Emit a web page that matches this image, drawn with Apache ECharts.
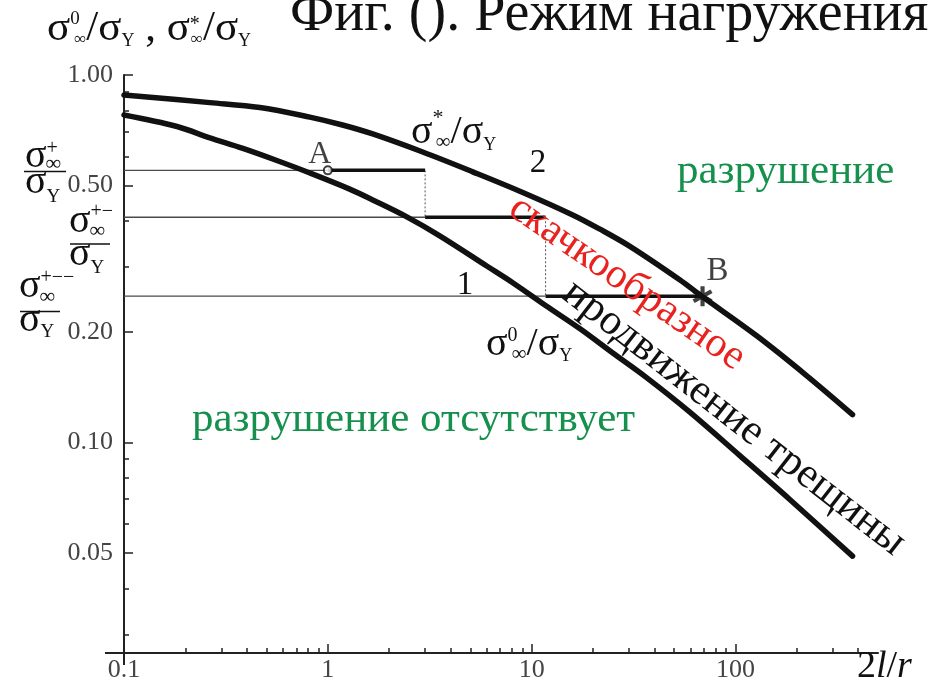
<!DOCTYPE html>
<html><head><meta charset="utf-8">
<script src="https://cdn.jsdelivr.net/npm/echarts@6/dist/echarts.min.js"></script>
<style>html,body{margin:0;padding:0;background:#fff}#c{width:936px;height:687px}</style>
</head><body><div id="c"></div>
<script>
// ---------------- data ----------------
const xMajorTicks = [0.1, 1, 10, 100];
const xMinorTicks = [0.2,0.3,0.4,0.5,0.6,0.7,0.8,0.9,2,3,4,5,6,7,8,9,20,30,40,50,60,70,80,90,200,300,400];
const yMajorTicks = [0.05, 0.1, 0.2, 0.5, 1];
const yMinorTicks = [0.03,0.04,0.06,0.07,0.08,0.09,0.3,0.4,0.6,0.7,0.8,0.9];
const xRange = [0.1, 500];
const yRange = [0.0267, 1];

// curve 2 : sigma*_inf / sigma_Y
const curve2X = [0.1, 0.264, 0.464, 0.816, 1.18, 1.66, 2.92, 5.14, 9.04, 15.9, 21.5, 30.2, 53.2, 68.9, 127, 223, 375];
const curve2Y = [0.882, 0.841, 0.816, 0.768, 0.731, 0.691, 0.617, 0.545, 0.479, 0.416, 0.381, 0.342, 0.277, 0.249, 0.195, 0.152, 0.119];
// curve 1 : sigma0_inf / sigma_Y
const curve1X = [0.1, 0.182, 0.264, 0.383, 0.562, 0.816, 1.28, 1.66, 2.44, 3.54, 6.02, 8.07, 11.8, 17.2, 25.0, 36.6, 59.5, 105, 184, 375];
const curve1Y = [0.778, 0.724, 0.674, 0.631, 0.585, 0.541, 0.489, 0.457, 0.411, 0.365, 0.302, 0.272, 0.235, 0.204, 0.175, 0.150, 0.121, 0.092, 0.070, 0.049];
// stepwise crack growth: load levels and jump abscissae (A ... B)
const stepLevels = [0.55, 0.41, 0.25];
const stepX = [1, 3, 11.7, 68.9];

// ---------------- helpers ----------------
const serif = '"Liberation Serif","DejaVu Serif",serif';
const mctx = document.createElement('canvas').getContext('2d');
function tw(t, f, it){ mctx.font = (it?'italic ':'') + f + 'px ' + serif; return mctx.measureText(t).width; }
function txt(x, baseline, t, f, color, align, italic){
  return {type:'text', silent:true, z:100,
    style:{x:x, y:baseline - 0.3375*f, text:t, font:(italic?'italic ':'')+f+'px '+serif, fill:color||'#111',
      align:align||'left', verticalAlign:'middle', textAlign:align||'left', textVerticalAlign:'middle'}};
}
function formula(x0, base, color, toks){
  const els=[]; let x=x0, prevX=x0;
  toks.forEach(k=>{
    const xx = (k.stack ? prevX : x) + (k.dx||0);
    const w = tw(k.t, k.f, k.it);
    els.push(txt(xx, base + (k.dy||0), k.t, k.f, color, 'left', k.it));
    if(!k.stack){ prevX = xx; x = xx + w; } else { x = Math.max(x, xx + w); }
  });
  return els;
}
function rotText(cx, cy, t, f, color, deg){
  return {type:'text', silent:true, z:100, x:cx, y:cy, rotation:-deg*Math.PI/180,
    style:{x:0,y:0,text:t,font:f+'px '+serif,fill:color,align:'center',verticalAlign:'middle',textAlign:'center',textVerticalAlign:'middle'}};
}
function asteriskPath(){
  let p='path://';
  [90,30,150].forEach(a=>{
    const r=a*Math.PI/180, d=[Math.cos(r)*50,Math.sin(r)*50], n=[-Math.sin(r)*10,Math.cos(r)*10];
    const pts=[[d[0]+n[0],d[1]+n[1]],[d[0]-n[0],d[1]-n[1]],[-d[0]-n[0],-d[1]-n[1]],[-d[0]+n[0],-d[1]+n[1]]];
    p+='M'+pts.map(q=>(q[0]+50).toFixed(2)+' '+(q[1]+50).toFixed(2)).join(' L')+' Z ';
  });
  return p;
}
const seg = (data, width, color, type, z) => ({type:'line', data:data, symbol:'none', showSymbol:false, silent:true, z:z,
  lineStyle:{width:width, color:color, type:type||'solid', cap:'butt'}});

// ---------------- series ----------------
const series = [];
stepLevels.forEach((lv,i)=>{ series.push(seg([[xRange[0], lv],[stepX[i], lv]], 1.3, '#4a4a4a', 'solid', 2)); });
stepLevels.forEach((lv,i)=>{ series.push(seg([[stepX[i], lv],[stepX[i+1], lv]], 3.5, '#111', 'solid', 4)); });
for(let i=0;i<stepLevels.length-1;i++){
  series.push(seg([[stepX[i+1], stepLevels[i]],[stepX[i+1], stepLevels[i+1]]], 1, '#555', [2,2], 2));
}
series.push({type:'line', data:curve2X.map((x,i)=>[x,curve2Y[i]]), symbol:'none', smooth:0.35, silent:true, z:5,
  lineStyle:{width:5.5,color:'#111',cap:'round'}});
series.push({type:'line', data:curve1X.map((x,i)=>[x,curve1Y[i]]), symbol:'none', smooth:0.35, silent:true, z:5,
  lineStyle:{width:5.5,color:'#111',cap:'round'}});
series.push({type:'scatter', data:[[stepX[0], stepLevels[0]]], symbol:'circle', symbolSize:8, z:8, silent:true,
  itemStyle:{color:'#fff', borderColor:'#111', borderWidth:2},
  label:{show:true, formatter:'A', position:[-3,-11], align:'center', verticalAlign:'middle', fontFamily:serif, fontSize:32, color:'#111'}});
series.push({type:'scatter', data:[[stepX[3], stepLevels[2]]], symbol:asteriskPath(), symbolSize:20, z:8, silent:true,
  itemStyle:{color:'#111'},
  label:{show:true, formatter:'B', position:[25,-15], align:'center', verticalAlign:'middle', fontFamily:serif, fontSize:33, color:'#111'}});

const axisCommon = {splitLine:{show:false}, minorTick:{show:false}, minorSplitLine:{show:false}};
const option = {
  animation:false,
  backgroundColor:'#fff',
  grid:{left:124, right:58, top:75, bottom:34},
  xAxis:[
    Object.assign({type:'log', logBase:10, min:xRange[0], max:xRange[1], position:'bottom',
      axisLine:{show:true, lineStyle:{color:'#222', width:2}},
      axisTick:{show:true, inside:true, length:9, customValues:xMajorTicks, lineStyle:{color:'#222', width:1.5}},
      axisLabel:{show:true, customValues:xMajorTicks, margin:4, color:'#444', fontFamily:serif, fontSize:26,
        formatter:v=> v<1 ? '0.1' : String(Math.round(v))}}, axisCommon),
    Object.assign({type:'log', logBase:10, min:xRange[0], max:xRange[1], position:'bottom',
      axisLine:{show:false},
      axisTick:{show:true, inside:true, length:5, customValues:xMinorTicks, lineStyle:{color:'#222', width:1.5}},
      axisLabel:{show:false}}, axisCommon)
  ],
  yAxis:[
    Object.assign({type:'log', logBase:10, min:yRange[0], max:yRange[1], position:'left',
      axisLine:{show:true, lineStyle:{color:'#222', width:2}},
      axisTick:{show:true, inside:true, length:9, customValues:yMajorTicks, lineStyle:{color:'#222', width:1.5}},
      axisLabel:{show:true, customValues:yMajorTicks, margin:11, color:'#444', fontFamily:serif, fontSize:26,
        formatter:v=>Number(v).toFixed(2)}}, axisCommon),
    Object.assign({type:'log', logBase:10, min:yRange[0], max:yRange[1], position:'left',
      axisLine:{show:false},
      axisTick:{show:true, inside:true, length:5, customValues:yMinorTicks, lineStyle:{color:'#222', width:1.5}},
      axisLabel:{show:false}}, axisCommon)
  ],
  series: series
};

const chart = echarts.init(document.getElementById('c'));
chart.setOption(option);

// ---------------- annotations ----------------
const corner = chart.convertToPixel({xAxisIndex:0, yAxisIndex:0}, [xRange[0], yRange[0]]);
const G = [];
G.push({type:'line', silent:true, shape:{x1:corner[0]-19, y1:corner[1], x2:corner[0], y2:corner[1]}, style:{stroke:'#222', lineWidth:2}});
G.push({type:'line', silent:true, shape:{x1:corner[0], y1:corner[1], x2:corner[0], y2:corner[1]+12}, style:{stroke:'#222', lineWidth:2}});

// title (cut at top)
G.push(txt(290, 34, 'Фиг. (). Режим нагружения', 56, '#111'));
// y axis name
G.push(...formula(47, 43, '#111', [
  {t:'σ',f:43},{t:'0',f:19,dy:-18},{t:'∞',f:17,dy:2,stack:true,dx:4},{t:'/σ',f:43},{t:'Y',f:18,dy:4},
  {t:' , σ',f:43},{t:'*',f:20,dy:-12},{t:'∞',f:17,dy:2,stack:true,dx:1},{t:'/σ',f:43},{t:'Y',f:18,dy:4}
]));
// x axis name
G.push(...formula(857, 680, '#111', [{t:'2',f:38},{t:'l',f:38,it:true},{t:'/',f:38},{t:'r',f:38,it:true}]));
// curve labels
G.push(...formula(411, 146, '#111', [
  {t:'σ',f:40},{t:'*',f:22,dy:-20},{t:'∞',f:21,dy:4,stack:true,dx:3},{t:'/σ',f:40},{t:'Y',f:18,dy:5}
]));
G.push(...formula(486, 358, '#111', [
  {t:'σ',f:40},{t:'0',f:20,dy:-16},{t:'∞',f:21,dy:4,stack:true,dx:4},{t:'/σ',f:40},{t:'Y',f:18,dy:4}
]));
G.push(txt(538, 174, '2', 33, '#111', 'center'));
G.push(txt(465, 296, '1', 33, '#111', 'center'));
// level fractions
function frac(x0, barY, barX1, barX2, numBase, sup, supBase, subBase, denBase, ySubBase){
  const a = [];
  a.push(txt(x0, numBase, 'σ', 40, '#111'));
  const w = tw('σ', 40);
  a.push(txt(x0 + w, supBase, sup, 20, '#111'));
  a.push(txt(x0 + w - 1, subBase, '∞', 22, '#111'));
  a.push({type:'line', silent:true, shape:{x1:barX1, y1:barY, x2:barX2, y2:barY}, style:{stroke:'#111', lineWidth:1.5}});
  a.push(txt(x0, denBase, 'σ', 40, '#111'));
  a.push(txt(x0 + w, ySubBase, 'Y', 19, '#111'));
  return a;
}
G.push(...frac(25, 171.5, 24, 66, 170, '+', 155, 172, 196, 203));
G.push(...frac(69, 244, 70, 110, 235, '+−', 218, 239, 268, 274));
G.push(...frac(19, 311.5, 20, 60, 300, '+−−', 284, 305, 334, 338));
// region texts
G.push(txt(677, 186, 'разрушение', 43, '#16904d'));
G.push(txt(192, 434, 'разрушение отсутствует', 43, '#16904d'));
G.push(rotText(627, 283, 'скачкообразное', 42, '#e8231f', 34.6));
G.push(rotText(734, 418, 'продвижение трещины', 43, '#111', 37.9));

chart.setOption({graphic:{elements:G}});
</script>
</body></html>
